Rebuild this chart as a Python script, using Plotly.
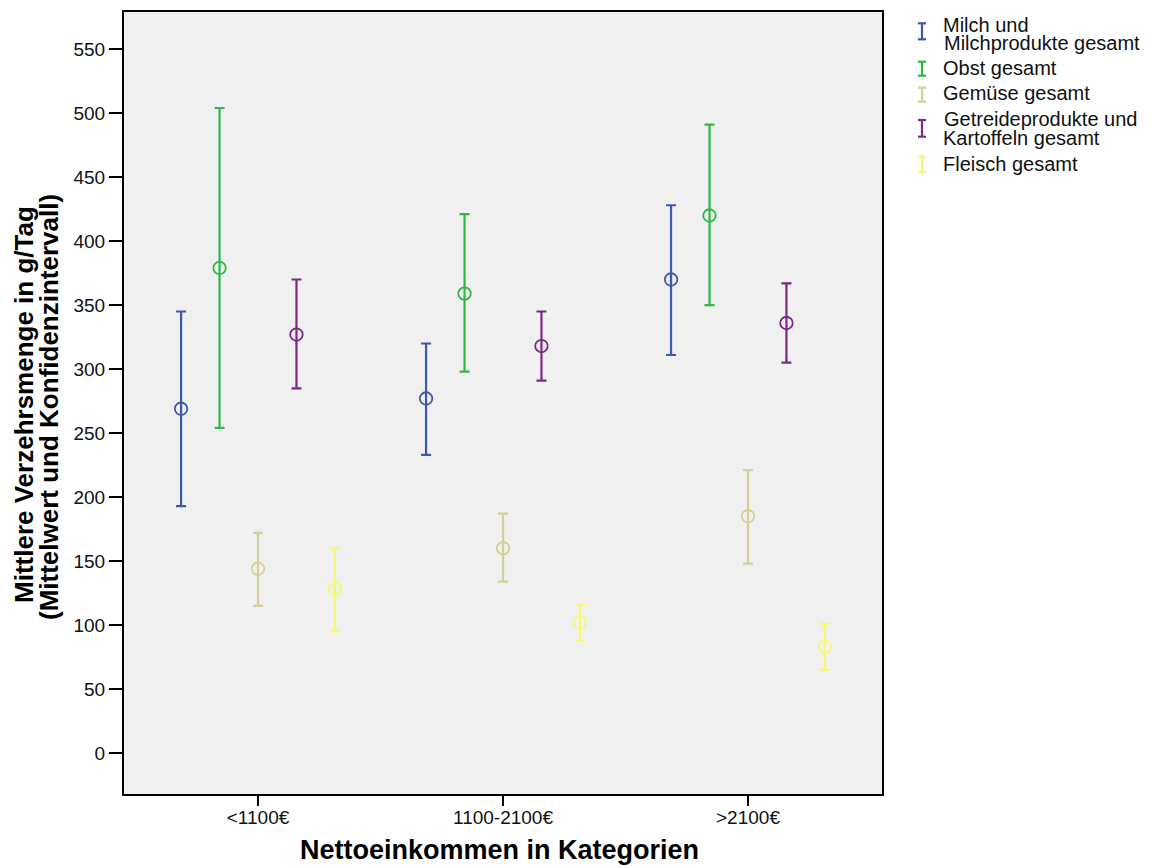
import plotly.graph_objects as go

# ---------------- data ----------------
categories = ["<1100€", "1100-2100€", ">2100€"]
series_names = [
    "Milch und Milchprodukte gesamt",
    "Obst gesamt",
    "Gemüse gesamt",
    "Getreideprodukte und Kartoffeln gesamt",
    "Fleisch gesamt",
]
legend_lines = [
    ["Milch und", "Milchprodukte gesamt"],
    ["Obst gesamt"],
    ["Gemüse gesamt"],
    ["Getreideprodukte und", "Kartoffeln gesamt"],
    ["Fleisch gesamt"],
]
milch_mean = [269, 277, 370]
milch_upper = [345, 320, 428]
milch_lower = [193, 233, 311]

obst_mean = [379, 359, 420]
obst_upper = [504, 421, 491]
obst_lower = [254, 298, 350]

gemuese_mean = [144, 160, 185]
gemuese_upper = [172, 187, 221]
gemuese_lower = [115, 134, 148]

getreide_mean = [327, 318, 336]
getreide_upper = [370, 345, 367]
getreide_lower = [285, 291, 305]

fleisch_mean = [128, 102, 83]
fleisch_upper = [160, 116, 101]
fleisch_lower = [95, 88, 65]

y_ticks = list(range(0, 551, 50))

# ---------------- style ----------------
colors = ["#3e59aa", "#2eb84a", "#d4cf97", "#7b2984", "#f9f772"]
offsets = [-0.314, -0.157, 0.0, 0.157, 0.314]

means = [milch_mean, obst_mean, gemuese_mean, getreide_mean, fleisch_mean]
uppers = [milch_upper, obst_upper, gemuese_upper, getreide_upper, fleisch_upper]
lowers = [milch_lower, obst_lower, gemuese_lower, getreide_lower, fleisch_lower]

W, H = 1158, 867
L, R, T, B = 124, 882, 12, 794  # plot area in pixels


def px_x(p):
    return (p - L) / (R - L)


def px_y(p):
    return (B - p) / (B - T)


fig = go.Figure()
for name, col, off, m, u, lo in zip(series_names, colors, offsets, means, uppers, lowers):
    xs = [i + off for i in range(len(categories))]
    fig.add_trace(go.Scatter(
        x=xs, y=m, mode="markers", name=name, showlegend=False,
        marker=dict(symbol="circle-open", size=12.5, color=col, line=dict(width=1.8, color=col)),
        error_y=dict(type="data", symmetric=False,
                     array=[a - b for a, b in zip(u, m)],
                     arrayminus=[b - c for b, c in zip(m, lo)],
                     color=col, thickness=2.2, width=5),
    ))

font_main = "Liberation Sans, Arial, sans-serif"

fig.update_layout(
    width=W, height=H,
    margin=dict(l=L, r=W - R, t=T, b=H - B),
    paper_bgcolor="white", plot_bgcolor="#f0f0f0",
    font=dict(family=font_main, color="#111111", size=19),
    showlegend=False,
    xaxis=dict(range=[-0.547, 2.547], tickvals=list(range(len(categories))), ticktext=categories,
               showgrid=False, zeroline=False, showline=True, linecolor="black", linewidth=2,
               mirror=True, ticks="outside", ticklen=10, tickwidth=2, tickcolor="black",
               tickfont=dict(size=19), automargin=False, ticklabelstandoff=-5),
    yaxis=dict(range=[-32, 579], tickvals=y_ticks, showgrid=False, zeroline=False,
               showline=True, linecolor="black", linewidth=2, mirror=True,
               ticks="outside", ticklen=13, tickwidth=2, tickcolor="black",
               tickfont=dict(size=19), automargin=False),
)

annotations = []
# axis titles
annotations.append(dict(text="<b>Nettoeinkommen in Kategorien</b>", xref="paper", yref="paper",
                        x=px_x(499), y=px_y(850), xanchor="center", yanchor="middle",
                        showarrow=False, font=dict(size=27, family=font_main, color="black")))
annotations.append(dict(text="<b>Mittlere Verzehrsmenge in g/Tag</b>", xref="paper", yref="paper",
                        x=px_x(24), y=px_y(405), xanchor="center", yanchor="middle", textangle=-90,
                        showarrow=False, font=dict(size=26, family=font_main, color="black")))
annotations.append(dict(text="<b>(Mittelwert und Konfidenzintervall)</b>", xref="paper", yref="paper",
                        x=px_x(49), y=px_y(407), xanchor="center", yanchor="middle", textangle=-90,
                        showarrow=False, font=dict(size=26, family=font_main, color="black")))

# manual legend
line_centers = [[24.5, 42.8], [67.5], [93.3], [119.5, 138], [164.2]]
beam_spans = [(23.3, 39.3), (61.7, 75.7), (87.7, 101.7), (120, 136.7), (156.7, 171.7)]
shapes = []
bx = 922
for lines, centers, span, col in zip(legend_lines, line_centers, beam_spans, colors):
    for txt, cy in zip(lines, centers):
        annotations.append(dict(text=txt, xref="paper", yref="paper", x=px_x(941.5), y=px_y(cy),
                                xanchor="left", yanchor="middle", showarrow=False,
                                font=dict(size=20, family=font_main, color="#111111")))
    y0, y1 = span
    for (xa, ya, xb, yb) in [(bx, y0, bx, y1), (bx - 4, y0, bx + 4, y0), (bx - 4, y1, bx + 4, y1)]:
        shapes.append(dict(type="line", xref="paper", yref="paper",
                           x0=px_x(xa), y0=px_y(ya), x1=px_x(xb), y1=px_y(yb),
                           line=dict(color=col, width=2.2)))

fig.update_layout(annotations=annotations, shapes=shapes)
# remove the browser's default 8px body margin so the figure fills the window exactly
fig.write_html("out.html", config={"displayModeBar": False},
               post_script="document.body.style.margin='0px';")
